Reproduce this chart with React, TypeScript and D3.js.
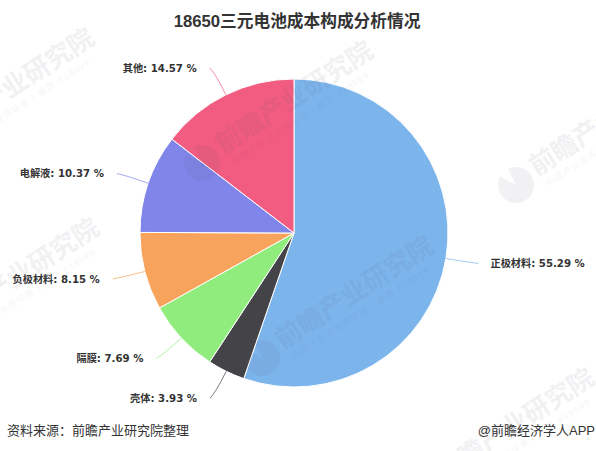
import React from "react";
import * as d3 from "d3";

const categories = ["正极材料", "壳体", "隔膜", "负极材料", "电解液", "其他"];
const shares = [55.29, 3.93, 7.69, 8.15, 10.37, 14.57];
const colors = ["#7cb4ec", "#434348", "#90ed7d", "#f7a35c", "#8085e9", "#f15c80"];
const titleText = "18650三元电池成本构成分析情况";
const sourceText = "资料来源：前瞻产业研究院整理";
const creditText = "@前瞻经济学人APP";
const watermarkName = "前瞻产业研究院";
const watermarkNote = "中国产业咨询领导者 | 股票 839599";
const watermarkAnchors: [number, number][] = [
  [-77, 150], [202, 163], [-72, 340], [516, 185], [262, 358], [423, 490],
];

const W = 596, H = 451, cx = 294, cy = 233, R = 154;
const font = "'Liberation Sans','Noto Sans CJK SC',sans-serif";
const labelFont = "'DejaVu Sans','Noto Sans CJK SC',sans-serif";

export default function App() {
  const pie = d3.pie<number>().sort(null).value((d) => d);
  const arcs = pie(shares);
  const arc = d3.arc<d3.PieArcDatum<number>>().innerRadius(0).outerRadius(R);
  const logo = d3.arc()({ innerRadius: 0, outerRadius: 18, startAngle: 0.12, endAngle: Math.PI * 2 - 0.5 }) ?? "";
  return (
    <svg width={W} height={H} viewBox={`0 0 ${W} ${H}`}
      style={{ position: "absolute", left: 0, top: 0, background: "#fff" }}>
      <text x={297} y={26.5} textAnchor="middle" fontFamily={font} fontWeight={700}
        fontSize={16.7} fill="#333">{titleText}</text>
      <g transform={`translate(${cx},${cy})`}>
        {arcs.map((a, i) => (
          <path key={i} d={arc(a) ?? ""} fill={colors[i]} stroke="#fff" strokeWidth={1} />
        ))}
      </g>
      {arcs.map((a, i) => {
        const mid = (a.startAngle + a.endAngle) / 2;
        const at = (r: number): [number, number] => [cx + r * Math.sin(mid), cy - r * Math.cos(mid)];
        const side = Math.sin(mid) >= 0 ? 1 : -1;
        const [x0, y0] = at(R);
        const [x1, y1] = at(R + 24);
        const [xe, ye] = at(R + 30);
        const x2 = xe + side * 3;
        const p = d3.path();
        p.moveTo(x0, y0);
        p.quadraticCurveTo(x1, y1, x2, ye);
        return (
          <g key={i}>
            <path d={p.toString()} fill="none" stroke={colors[i]} strokeWidth={1} opacity={0.7} />
            <text x={x2 + side * (side > 0 ? 12 : 13)} y={ye + 4} textAnchor={side > 0 ? "start" : "end"}
              fontFamily={labelFont} fontWeight={700} fontSize={10.2} fill="#333">
              {`${categories[i]}: ${shares[i].toFixed(2)} %`}
            </text>
          </g>
        );
      })}
      <g style={{ pointerEvents: "none" }}>
        {watermarkAnchors.map(([x, y], i) => (
          <g key={i} transform={`translate(${x},${y}) rotate(-33)`} fontFamily={font} fill="#5a5a70" opacity={0.08}>
            <path d={logo} />
            <text x={22} y={4} fontSize={26} fontWeight={700}>{watermarkName}</text>
            <text x={26} y={19} fontSize={8.5} letterSpacing={1.5} opacity={0.7}>{watermarkNote}</text>
          </g>
        ))}
      </g>
      <text x={7} y={435} fontFamily={font} fontSize={13} fill="#333">{sourceText}</text>
      <text x={595} y={435} textAnchor="end" fontFamily={font} fontSize={13} fill="#333">{creditText}</text>
    </svg>
  );
}
